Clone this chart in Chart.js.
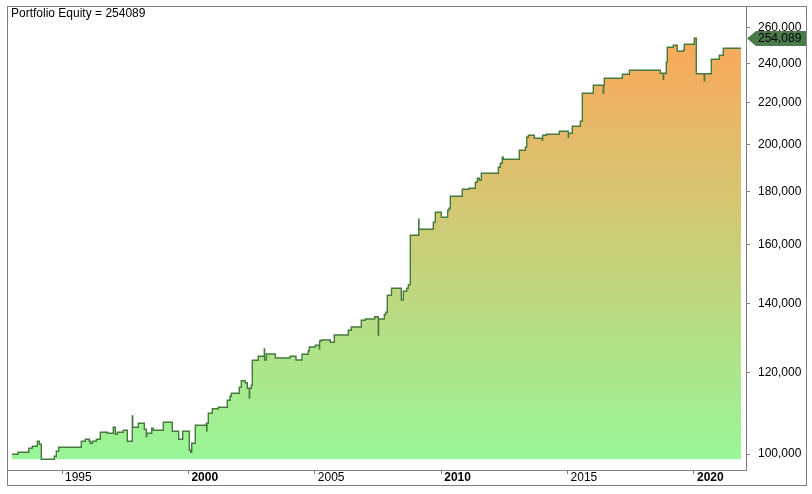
<!DOCTYPE html>
<html>
<head>
<meta charset="utf-8">
<title>Portfolio Equity</title>
<script src="https://cdn.jsdelivr.net/npm/chart.js@4"></script>
<style>
  html, body { margin: 0; padding: 0; background: #fff; }
  #wrap { width: 812px; height: 494px; }
</style>
</head>
<body>
<div id="wrap"><canvas id="equityChart" width="812" height="494"></canvas></div>
<script>
// equity curve: step start (decimal year) and equity held from there
const years = [
  1993.022, 1993.259, 1993.683, 1993.825, 1994.023, 1994.102, 1994.181, 1994.695, 1994.775, 1994.869,
  1995.763, 1995.922, 1996.080, 1996.119, 1996.199, 1996.357, 1996.515, 1996.792, 1997.029, 1997.108,
  1997.188, 1997.425, 1997.583, 1997.781, 1997.797, 1998.018, 1998.256, 1998.335, 1998.350, 1998.548,
  1998.612, 1999.007, 1999.363, 1999.616, 1999.775, 2000.036, 2000.091, 2000.131, 2000.273, 2000.708,
  2000.724, 2000.732, 2000.787, 2000.945, 2001.183, 2001.539, 2001.646, 2001.697, 2002.013, 2002.093,
  2002.251, 2002.330, 2002.409, 2002.421, 2002.488, 2002.528, 2002.765, 2003.003, 2003.014, 2003.081,
  2003.438, 2004.019, 2004.256, 2004.494, 2004.743, 2004.783, 2005.020, 2005.178, 2005.190, 2005.257,
  2005.613, 2005.771, 2006.325, 2006.444, 2006.839, 2006.998, 2007.370, 2007.512, 2007.524, 2007.749,
  2007.809, 2007.868, 2008.034, 2008.422, 2008.501, 2008.635, 2008.699, 2008.778, 2009.110, 2009.118,
  2009.688, 2009.767, 2010.004, 2010.257, 2010.309, 2010.360, 2010.835, 2011.100, 2011.349, 2011.428,
  2011.507, 2011.586, 2012.259, 2012.338, 2012.417, 2012.457, 2013.090, 2013.327, 2013.382, 2013.446,
  2013.683, 2014.000, 2014.011, 2014.157, 2014.672, 2015.028, 2015.040, 2015.186, 2015.503, 2015.582,
  2016.017, 2016.412, 2016.424, 2016.452, 2017.164, 2017.441, 2018.667, 2018.786, 2018.797, 2018.904,
  2018.944, 2019.181, 2019.339, 2019.577, 2019.616, 2020.012, 2020.091, 2020.407, 2020.419, 2020.685,
  2021.001, 2021.159, 2021.859
];
const equity = [
  99930, 100380, 101290, 101740, 102890, 102200, 98820, 99490, 100610, 101510,
  102890, 103350, 102890, 102430, 102890, 103350, 104990, 104750, 106170, 104520,
  104990, 105460, 102890, 108900, 106170, 107130, 105700, 103960, 104750, 105930,
  105460, 107370, 105220, 103350, 105220, 100830, 100380, 102430, 106650, 107130,
  105290, 107130, 109560, 110690, 111040, 112800, 113820, 114580, 116140, 117870,
  117340, 115880, 113380, 115880, 116660, 123390, 124500, 126550, 123470, 125140,
  124020, 124500, 123470, 125060, 126070, 127120, 127610, 126640, 128840, 129130,
  128470, 130590, 131970, 132950, 134960, 135360, 136060, 130590, 135360, 136730,
  137440, 142780, 145010, 141250, 144030, 145010, 146180, 163310, 169280, 165520,
  168140, 171950, 170040, 172730, 173500, 178240, 181060, 181470, 183920, 185580,
  184750, 187670, 190210, 191920, 194520, 193650, 197600, 198930, 203440, 204360,
  202990, 202080, 204360, 204820, 206200, 203440, 205280, 208530, 210880, 224540,
  228610, 224540, 228610, 232230, 234320, 236430, 234850, 231710, 234850, 240710,
  248950, 250060, 246720, 247280, 250630, 254020, 234640, 230980, 234640, 242340,
  244520, 248390, 248390
];
const lastEquity = 254089;
const yTicks = [100000, 120000, 140000, 160000, 180000, 200000, 220000, 240000, 260000];
const xTicks = [1995, 2000, 2005, 2010, 2015, 2020];

const FONT = '"Liberation Sans", Arial, sans-serif';
const GREY = '#808080';
const LINE = '#467a3c';

const baseValue = Math.min(...equity);
const topValue = Math.max(...equity);

function areaGradient(context) {
  const chart = context.chart;
  if (!chart.chartArea) return null;
  const ys = chart.scales.y;
  const g = chart.ctx.createLinearGradient(0, ys.getPixelForValue(baseValue), 0, ys.getPixelForValue(topValue));
  g.addColorStop(0, 'rgb(152,246,152)');
  g.addColorStop(1, 'rgb(250,168,90)');
  return g;
}

// frame, title text and the last-value marker on the price axis
const decorations = {
  id: 'decorations',
  afterDraw(chart) {
    const c = chart.ctx;
    const area = chart.chartArea;
    const ys = chart.scales.y;
    const xs = chart.scales.x;
    c.save();
    c.strokeStyle = GREY;
    c.lineWidth = 1;
    c.strokeRect(area.left + 0.5, area.top + 0.5, ys.right - area.left, xs.bottom - area.top);

    c.fillStyle = '#000';
    c.font = '12px ' + FONT;
    c.textAlign = 'left';
    c.textBaseline = 'middle';
    c.fillText('Portfolio Equity = ' + lastEquity, area.left + 4, area.top + 8);

    const py = Math.round(ys.getPixelForValue(lastEquity)) + 0.5;
    const x0 = area.right + 1;
    c.beginPath();
    c.moveTo(x0, py);
    c.lineTo(x0 + 9, py - 7.5);
    c.lineTo(ys.right, py - 7.5);
    c.lineTo(ys.right, py + 7.5);
    c.lineTo(x0 + 9, py + 7.5);
    c.closePath();
    c.fillStyle = '#4a7a4a';
    c.fill();
    c.fillStyle = '#000';
    c.fillText(lastEquity.toLocaleString('en-US'), area.right + 12, py + 0.5);
    c.restore();
  }
};

new Chart(document.getElementById('equityChart'), {
  type: 'line',
  data: {
    datasets: [{
      label: 'Portfolio Equity',
      data: years.map((yr, i) => ({ x: yr, y: equity[i] })),
      stepped: 'before',
      borderColor: LINE,
      borderWidth: 1.4,
      pointRadius: 0,
      fill: { value: baseValue },
      backgroundColor: areaGradient
    }]
  },
  options: {
    responsive: false,
    animation: false,
    events: [],
    devicePixelRatio: 1,
    layout: { padding: { left: 7, top: 6, right: 6, bottom: 9 } },
    plugins: { legend: { display: false }, tooltip: { enabled: false } },
    scales: {
      x: {
        type: 'linear',
        min: 1992.824,
        max: 2022.057,
        afterBuildTicks: s => { s.ticks = xTicks.map(v => ({ value: v })); },
        afterFit: s => { s.height = 15; s.paddingLeft = 0; s.paddingRight = 0; },
        grid: { drawOnChartArea: false, drawTicks: true, tickLength: 4, color: GREY },
        border: { color: GREY },
        ticks: {
          align: 'start',
          labelOffset: 3,
          padding: -4,
          color: '#000',
          maxRotation: 0,
          autoSkip: false,
          callback: v => String(v),
          font: ctx => ({
            family: FONT,
            size: 12,
            weight: ctx.tick && ctx.tick.value % 10 === 0 ? 'bold' : 'normal'
          })
        }
      },
      y: {
        type: 'logarithmic',
        position: 'right',
        min: 96476,
        max: 273110,
        afterBuildTicks: s => { s.ticks = yTicks.map(v => ({ value: v })); },
        afterFit: s => { s.width = 60; s.paddingTop = 0; s.paddingBottom = 0; },
        grid: { drawOnChartArea: false, drawTicks: true, tickLength: 4, color: GREY },
        border: { color: GREY },
        ticks: {
          padding: 8,
          color: '#000',
          autoSkip: false,
          font: { family: FONT, size: 12 },
          callback: v => Number(v).toLocaleString('en-US')
        }
      }
    }
  },
  plugins: [decorations]
});
</script>
</body>
</html>
